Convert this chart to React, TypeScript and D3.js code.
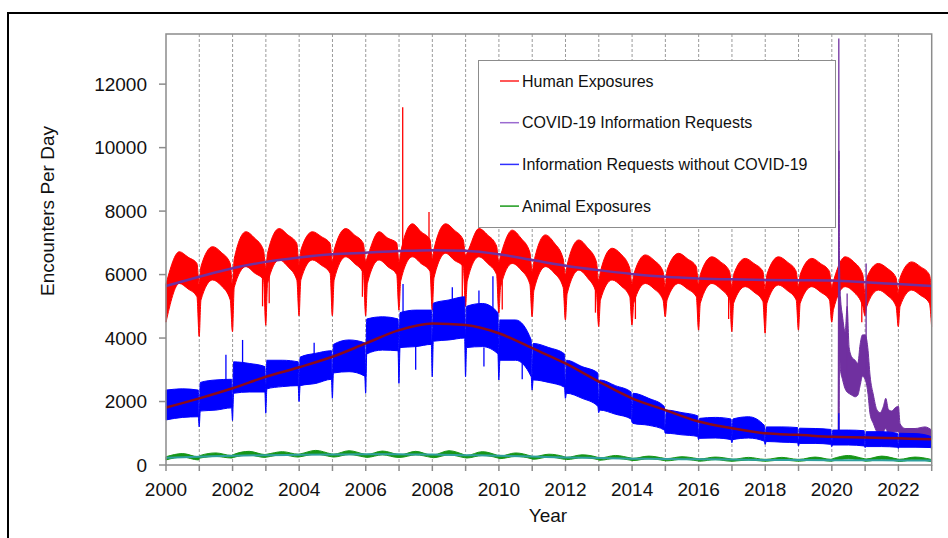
import React from 'react';
import * as d3 from 'd3';

// per-year readings, 2000 .. 2022
const years = d3.range(2000, 2023);
const xTickLabels = [2000, 2002, 2004, 2006, 2008, 2010, 2012, 2014, 2016, 2018, 2020, 2022];
const yTicks = [0, 2000, 4000, 6000, 8000, 10000, 12000];

// Human exposures (red band)
const redJanHigh = [5700, 6250, 6500, 6670, 6770, 6770, 6560, 6700, 6800, 6700, 6600, 6400, 6300, 6100, 6000, 6140, 6000, 6000, 6000, 6000, 5800, 5900, 5900];
const redJanLow = [4500, 5200, 5600, 5720, 5830, 5830, 5720, 5800, 5900, 5800, 5600, 5500, 5400, 5200, 5100, 5200, 5100, 5100, 5100, 5100, 4900, 5000, 5000];
const redPeakHigh = [6720, 6880, 7350, 7450, 7350, 7450, 7350, 7600, 7600, 7450, 7400, 7250, 7090, 6830, 6620, 6670, 6560, 6510, 6560, 6510, 6560, 6350, 6400];
const redPeakLow = [5720, 5830, 6250, 6460, 6460, 6560, 6460, 6560, 6670, 6560, 6350, 6250, 6140, 5830, 5720, 5720, 5720, 5620, 5670, 5620, 5620, 5510, 5510];
const redSummerHigh = [6550, 6700, 7150, 7250, 7200, 7250, 7150, 7350, 7400, 7250, 7150, 7000, 6850, 6650, 6450, 6500, 6400, 6350, 6400, 6350, 6400, 6200, 6250];
const redSummerLow = [5550, 5650, 6050, 6250, 6300, 6350, 6250, 6350, 6450, 6350, 6150, 6050, 5900, 5650, 5550, 5550, 5550, 5450, 5500, 5450, 5450, 5350, 5350];
const redLateHigh = [6350, 6350, 6770, 6980, 6980, 6980, 7000, 7100, 7090, 6900, 6700, 6500, 6400, 6200, 6100, 6250, 6100, 6100, 6100, 6100, 6000, 5900, 6000];
const redLateLow = [5300, 5200, 5830, 5830, 6040, 6040, 6000, 6100, 6250, 6000, 5700, 5600, 5400, 5300, 5200, 5300, 5200, 5150, 5200, 5200, 5000, 5000, 5100];
const redDipTop = [5700, 5700, 6200, 6300, 6400, 6400, 6400, 6500, 6600, 6400, 6100, 6000, 5800, 5700, 5600, 5700, 5600, 5550, 5600, 5600, 5400, 5400, 5500];
const redDip = [4050, 4200, 4400, 4700, 4700, 4700, 4880, 4880, 5000, 4780, 4670, 4570, 4360, 4410, 4670, 4250, 4200, 4150, 4250, 4500, 4700, 4360, 4360];
const redSpikes = [[2007.11, 6800, 11270], [2007.9, 7000, 7970], [2002.9, 6000, 5000], [2005.9, 6300, 5300], [2008.9, 6300, 5200], [2012.9, 5600, 4800], [2016.9, 5400, 4600], [2020.9, 5200, 4500], [2003.1, 6000, 5100], [2010.1, 5800, 4900], [2014.1, 5400, 4600]];

// Information requests without COVID-19 (blue band)
const blueJanHigh = [2360, 2600, 3250, 3300, 3400, 3800, 4600, 4800, 5100, 5000, 4570, 3830, 3300, 2680, 2260, 1730, 1470, 1450, 1200, 1160, 1100, 1050, 1000];
const blueJanLow = [1420, 1700, 2260, 2400, 2500, 2900, 3500, 3700, 3900, 3700, 3300, 2680, 2260, 1730, 1310, 1000, 840, 800, 740, 680, 630, 580, 560];
const blueMidHigh = [2400, 2680, 3200, 3300, 3520, 3940, 4670, 4880, 5200, 5090, 4570, 3700, 3100, 2500, 2100, 1650, 1500, 1520, 1200, 1150, 1100, 1050, 990];
const blueMidLow = [1500, 1730, 2300, 2470, 2570, 2940, 3620, 3730, 3940, 3730, 3300, 2600, 2100, 1600, 1250, 950, 850, 850, 720, 680, 630, 580, 560];
const blueLateHigh = [2360, 2700, 3100, 3250, 3600, 3850, 4600, 4880, 5300, 4800, 3940, 3500, 2900, 2300, 1840, 1550, 1450, 1250, 1180, 1120, 1080, 1000, 900];
const blueLateLow = [1520, 1800, 2300, 2500, 2700, 2800, 3600, 3800, 4000, 3500, 2780, 2450, 1850, 1450, 1100, 900, 800, 750, 700, 650, 600, 560, 550];
const blueDip = [1200, 1400, 1630, 2000, 2100, 2260, 2570, 2780, 2780, 2680, 2360, 2100, 1650, 1350, 1000, 800, 700, 650, 600, 580, 550, 520, 500];
const blueSpikes = [[2001.8, 2600, 3470], [2002.3, 3100, 3940], [2007.12, 4800, 5700], [2009.82, 4800, 5950], [2009.4, 4900, 5500], [2020.21, 1000, 1630], [2007.5, 3800, 3000], [2009.55, 3700, 3100], [2010.7, 3300, 2700], [2004.45, 3500, 3850], [2008.6, 5200, 5600]];

// Animal exposures (green band)
const greenPeakHigh = [360, 380, 430, 420, 460, 450, 440, 430, 450, 420, 380, 340, 320, 300, 280, 260, 250, 240, 240, 250, 300, 280, 250];
const greenPeakLow = [250, 270, 310, 320, 340, 330, 320, 320, 320, 300, 270, 250, 230, 210, 200, 180, 170, 160, 160, 170, 200, 180, 170];
const greenWinterHigh = [260, 300, 330, 340, 350, 340, 330, 320, 320, 300, 280, 260, 240, 220, 210, 200, 190, 180, 180, 180, 200, 190, 180];
const greenWinterLow = [160, 220, 240, 250, 260, 250, 240, 240, 230, 220, 200, 180, 170, 150, 140, 130, 120, 120, 120, 120, 130, 120, 110];

// COVID-19 information requests (purple)
const covidTimes = [2020.19, 2020.215, 2020.23, 2020.26, 2020.32, 2020.40, 2020.46, 2020.52, 2020.60, 2020.70, 2020.78, 2020.85, 2020.92, 2021.00, 2021.08, 2021.15, 2021.25, 2021.35, 2021.45, 2021.55, 2021.62, 2021.70, 2021.80, 2021.90, 2022.00, 2022.05, 2022.20, 2022.50, 2022.80, 2023.00];
const covidLow = [900, 1000, 3500, 3000, 2700, 2400, 2300, 2250, 2200, 2150, 2200, 2500, 2800, 2700, 2300, 1600, 1300, 1050, 950, 1050, 1150, 1000, 1000, 1050, 1050, 900, 850, 850, 850, 800];
const covidHigh = [1000, 9900, 6500, 5300, 4700, 4200, 5000, 3700, 3400, 3300, 3200, 3800, 4100, 4100, 3700, 2800, 2200, 1750, 1650, 1850, 2100, 1750, 1700, 1800, 1850, 1300, 1150, 1150, 1200, 1100];
const covidSpikes = [[2020.21, 1000, 13440], [2021.03, 2700, 6350], [2020.46, 2300, 5400]];

// smoothed trends, 2000 .. 2023
const trendYears = d3.range(2000, 2024);
const redTrend = [5640, 5930, 6200, 6400, 6540, 6640, 6690, 6740, 6770, 6750, 6640, 6460, 6280, 6140, 6020, 5930, 5880, 5850, 5830, 5820, 5810, 5760, 5700, 5640];
const blueTrend = [1810, 2100, 2420, 2780, 3080, 3410, 3830, 4250, 4460, 4410, 4150, 3680, 3200, 2630, 2100, 1730, 1370, 1160, 1000, 950, 890, 870, 840, 810];
const greenTrend = [230, 260, 290, 310, 320, 330, 340, 335, 330, 310, 290, 265, 240, 220, 200, 190, 180, 170, 160, 155, 150, 148, 145, 140];

const legendItems = [
  { label: 'Human Exposures', color: '#ff2020' },
  { label: 'COVID-19 Information Requests', color: '#9b6bd0' },
  { label: 'Information Requests without COVID-19', color: '#3030ff' },
  { label: 'Animal Exposures', color: '#1a9a1a' },
];

type Pt = { t: number; lo: number; hi: number };

// build band points from per-year readings: [offset in year, highs, lows]
const buildBand = (segs: [number, number[], number[]][], dip?: number[], dipTop?: number[]): Pt[] => {
  const pts: Pt[] = [];
  years.forEach((yr, i) => {
    segs.forEach(([off, hi, lo], k) => {
      pts.push({ t: i === 0 && k === 0 ? yr : yr + off, lo: lo[i], hi: hi[i] });
    });
    if (dip) {
      const last = segs[segs.length - 1];
      pts.push({ t: yr + 0.997, lo: dip[i], hi: dipTop ? dipTop[i] : last[2][i] });
    }
  });
  return pts;
};

const font = '"Liberation Sans", Arial, sans-serif';

export default function App() {
  const width = 948;
  const height = 538;
  const left = 166, right = 931.7, top = 34, bottom = 465;

  const x = d3.scaleLinear().domain([2000, 2023]).range([left, right]);
  const y = d3.scaleLinear().domain([0, 13580]).range([bottom, top]);

  const area = d3.area<Pt>().x(d => x(d.t)).y0(d => y(d.lo)).y1(d => y(d.hi)).curve(d3.curveMonotoneX);
  const trend = d3.line<number>().x((d, i) => x(trendYears[i])).y(d => y(d)).curve(d3.curveMonotoneX);

  const redBand = buildBand([[0.05, redJanHigh, redJanLow], [0.4, redPeakHigh, redPeakLow], [0.66, redSummerHigh, redSummerLow], [0.93, redLateHigh, redLateLow]], redDip, redDipTop);
  const blueBand = buildBand([[0.03, blueJanHigh, blueJanLow], [0.5, blueMidHigh, blueMidLow], [0.97, blueLateHigh, blueLateLow]], blueDip);
  const greenBand = buildBand([[0.03, greenWinterHigh, greenWinterLow], [0.5, greenPeakHigh, greenPeakLow], [0.97, greenWinterHigh, greenWinterLow]]);
  const covidBand: Pt[] = covidTimes.map((t, i) => ({ t, lo: covidLow[i], hi: covidHigh[i] }));

  const Band = ({ pts, spikes, color }: { pts: Pt[]; spikes?: number[][]; color: string }) => (
    <g>
      <path d={area(pts) || ''} fill={color} stroke={color} strokeWidth={1} strokeLinejoin="round" />
      {(spikes || []).map(([t, lo, hi], i) => (
        <line key={i} x1={x(t)} x2={x(t)} y1={y(lo)} y2={y(hi)} stroke={color} strokeWidth={1.3} />
      ))}
    </g>
  );

  const legX = 478.5, legY = 60.5, legW = 357, legH = 167;

  return (
    <svg width={width} height={height} style={{ position: 'absolute', left: 0, top: 0, background: '#fff' }} fontFamily={font}>
      <rect x={8} y={13} width={1000} height={600} fill="#fff" stroke="#000" strokeWidth={2} />

      {/* year gridlines */}
      {d3.range(2001, 2023).map(yr => (
        <line key={yr} x1={x(yr)} x2={x(yr)} y1={top} y2={bottom} stroke="#9a9a9a" strokeWidth={1} strokeDasharray="3,2" />
      ))}

      <Band pts={redBand} spikes={redSpikes} color="#ff0000" />
      <Band pts={covidBand} spikes={covidSpikes} color="#7030a0" />
      <Band pts={blueBand} spikes={blueSpikes} color="#0000ff" />
      <Band pts={greenBand} color="#169616" />

      <path d={trend(redTrend) || ''} fill="none" stroke="#7030a0" strokeWidth={2.5} />
      <path d={trend(blueTrend) || ''} fill="none" stroke="#8b0a1a" strokeWidth={2.5} />
      <path d={trend(greenTrend) || ''} fill="none" stroke="#2f9f9f" strokeWidth={2} />

      {/* plot frame */}
      <rect x={left} y={top} width={right - left} height={bottom - top} fill="none" stroke="#8c8c8c" strokeWidth={1.5} />

      {/* y axis */}
      {yTicks.map(v => (
        <g key={v} transform={`translate(0,${y(v)})`}>
          <line x1={159} x2={left} stroke="#8c8c8c" strokeWidth={1.5} />
          <text x={147} dy="0.35em" textAnchor="end" fontSize={19} fill="#111">{v}</text>
        </g>
      ))}

      {/* x axis */}
      {d3.range(2000, 2024).map(yr => (
        <line key={yr} x1={x(yr)} x2={x(yr)} y1={bottom} y2={bottom + 6} stroke="#8c8c8c" strokeWidth={1.5} />
      ))}
      {xTickLabels.map(yr => (
        <text key={yr} x={x(yr)} y={496} textAnchor="middle" fontSize={19} fill="#111">{yr}</text>
      ))}

      <text x={548} y={522} textAnchor="middle" fontSize={19} fill="#111">Year</text>
      <text transform="translate(54,211) rotate(-90)" textAnchor="middle" fontSize={19} fill="#111">Encounters Per Day</text>

      {/* legend */}
      <rect x={legX} y={legY} width={legW} height={legH} fill="#fff" stroke="#8c8c8c" strokeWidth={1} />
      {legendItems.map((d, i) => (
        <g key={d.label} transform={`translate(0,${81 + i * 41.7})`}>
          <line x1={500} x2={519} stroke={d.color} strokeWidth={1.5} />
          <text x={522} dy="0.35em" fontSize={16} fill="#111">{d.label}</text>
        </g>
      ))}
    </svg>
  );
}
